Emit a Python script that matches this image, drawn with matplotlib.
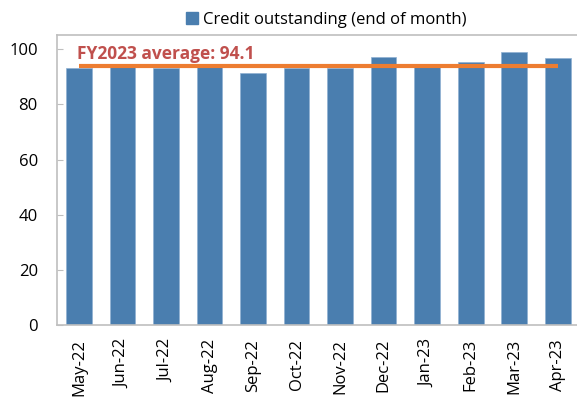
import matplotlib

matplotlib.use("Agg")

import matplotlib.pyplot as plt  # noqa: E402
from matplotlib.patches import Patch  # noqa: E402

months = ["May-22", "Jun-22", "Jul-22", "Aug-22", "Sep-22", "Oct-22",
          "Nov-22", "Dec-22", "Jan-23", "Feb-23", "Mar-23", "Apr-23"]
credit = [93.1, 94.0, 93.1, 94.0, 91.3, 93.1, 93.1, 97.1, 93.9, 95.3, 98.9, 96.7]
fy_average = 94.1
yticks = [0, 20, 40, 60, 80, 100]

BAR = "#4A7EAF"
LINE = "#ED7D31"
NOTE = "#C0504D"
GRAY = "#BFBFBF"

plt.rcParams["font.family"] = ["Open Sans", "DejaVu Sans"]

fig = plt.figure(figsize=(5.77, 4.01), dpi=100)
ax = fig.add_axes([0.0993, 0.1895, 0.905, 0.7232])

x = list(range(len(months)))
ax.bar(x, credit, width=0.59, color=BAR, edgecolor="#8FB1D3", linewidth=0.5, zorder=2)
ax.plot(x, [fy_average] * len(x), color=LINE, linewidth=3, solid_capstyle="butt", zorder=3)
# label sits just above the average line, starting at the first bar
ax.text(-0.05, 96.6, f"FY2023 average: {fy_average}", color=NOTE, fontsize=12.5,
        fontweight="bold", ha="left", va="baseline", zorder=4)

ax.set_xlim(-0.5, len(months) - 0.5)
ax.set_ylim(0, 105.2)
ax.set_yticks(yticks)
ax.set_xticks(x)
ax.set_xticklabels(months, rotation=90, fontsize=12)
ax.tick_params(axis="y", direction="in", length=4, color=GRAY, labelsize=12, pad=14)
ax.tick_params(axis="x", length=0, pad=10)

for side in ["left", "bottom", "top"]:
    ax.spines[side].set_color(GRAY)
    ax.spines[side].set_linewidth(1.2)
ax.spines["right"].set_visible(False)

fig.legend(handles=[Patch(color=BAR, label="Credit outstanding (end of month)")],
           loc="center", bbox_to_anchor=(0.565, 0.95), frameon=False, fontsize=12,
           handlelength=0.7, handleheight=0.7, handletextpad=0.3)

fig.savefig("out.png", dpi=100)
